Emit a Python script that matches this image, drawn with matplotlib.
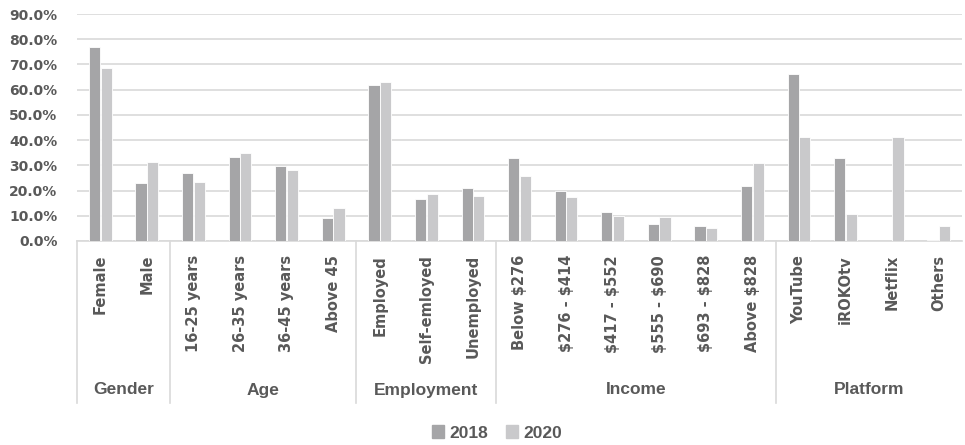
import matplotlib
matplotlib.use("Agg")
import matplotlib.pyplot as plt
import matplotlib.transforms as mtransforms
from matplotlib.patches import Patch
import numpy as np

categories = ["Female", "Male",
              "16-25 years", "26-35 years", "36-45 years", "Above 45",
              "Employed", "Self-emloyed", "Unemployed",
              "Below $276", "$276 - $414", "$417 - $552", "$555 - $690", "$693 - $828", "Above $828",
              "YouTube", "iROKOtv", "Netflix", "Others"]
groups = ["Gender", "Age", "Employment", "Income", "Platform"]
group_sizes = [2, 4, 3, 6, 4]
v2018 = [77.0, 22.9, 27.1, 33.5, 29.8, 9.1, 61.7, 16.8, 21.2,
         33.0, 19.9, 11.5, 6.6, 6.0, 21.8, 66.2, 33.0, 0.0, 0.4]
v2020 = [68.4, 31.4, 23.2, 34.9, 28.1, 13.2, 63.0, 18.8, 18.0,
         25.8, 17.5, 9.8, 9.5, 5.2, 31.1, 41.3, 10.6, 41.3, 6.0]
yticks = [0, 10, 20, 30, 40, 50, 60, 70, 80, 90]

c2018 = "#A5A5A7"
c2020 = "#C9C9CB"
txt = "#595959"
grid = "#D9D9D9"

W, H = 965, 445
fig = plt.figure(figsize=(W / 100, H / 100), dpi=100)
ax = fig.add_axes([77 / W, (H - 241) / H, (962 - 77) / W, (241 - 14) / H])

x = np.arange(len(categories))
bw = 0.24
ax.bar(x - 0.125, v2018, bw, color=c2018, edgecolor="white", linewidth=0.6, zorder=3)
ax.bar(x + 0.125, v2020, bw, color=c2020, edgecolor="white", linewidth=0.6, zorder=3)

ax.set_xlim(-0.5, len(categories) - 0.5)
ax.set_ylim(0, 90)
ax.set_yticks(yticks)
ax.set_yticklabels([f"{t:.1f}%" for t in yticks], fontsize=10, fontweight="bold",
                   color=txt, family="DejaVu Sans")
ax.tick_params(axis="y", length=0, pad=14)
ax.tick_params(axis="x", length=0)
ax.set_xticks([])
ax.grid(axis="y", color=grid, linewidth=1.2, zorder=0)
for s in ["top", "right", "left"]:
    ax.spines[s].set_visible(False)
ax.spines["bottom"].set_color(grid)
ax.spines["bottom"].set_linewidth(1.2)

trans = mtransforms.blended_transform_factory(ax.transData, ax.transAxes)
ah = 241 - 14
for i, c in enumerate(categories):
    ax.text(i, -(255 - 241) / ah, c, rotation=90, ha="center", va="top",
            fontsize=10.5, fontweight="bold", color=txt, family="DejaVu Sans",
            transform=trans, parse_math=False)

bounds = np.concatenate([[0], np.cumsum(group_sizes)])
for b in bounds[:-1]:
    ax.plot([b - 0.5, b - 0.5], [0, -(403 - 241) / ah], color=grid, linewidth=1.2,
            transform=trans, clip_on=False)
for g, s, e in zip(groups, bounds[:-1], bounds[1:]):
    ax.text((s + e - 1) / 2, -(390 - 241) / ah, g, ha="center", va="center",
            fontsize=12.5, fontweight="bold", color=txt, family="Liberation Sans",
            transform=trans)

handles = [Patch(color=c2018, label="2018"), Patch(color=c2020, label="2020")]
leg = fig.legend(handles=handles, loc="center", bbox_to_anchor=(497 / W, 1 - 433 / H),
                 ncol=2, frameon=False, handlelength=0.7, handleheight=0.7,
                 handletextpad=0.3, columnspacing=1.0,
                 prop={"family": "Liberation Sans", "weight": "bold", "size": 12.5})
for t in leg.get_texts():
    t.set_color(txt)

fig.savefig("out.png", dpi=100)
